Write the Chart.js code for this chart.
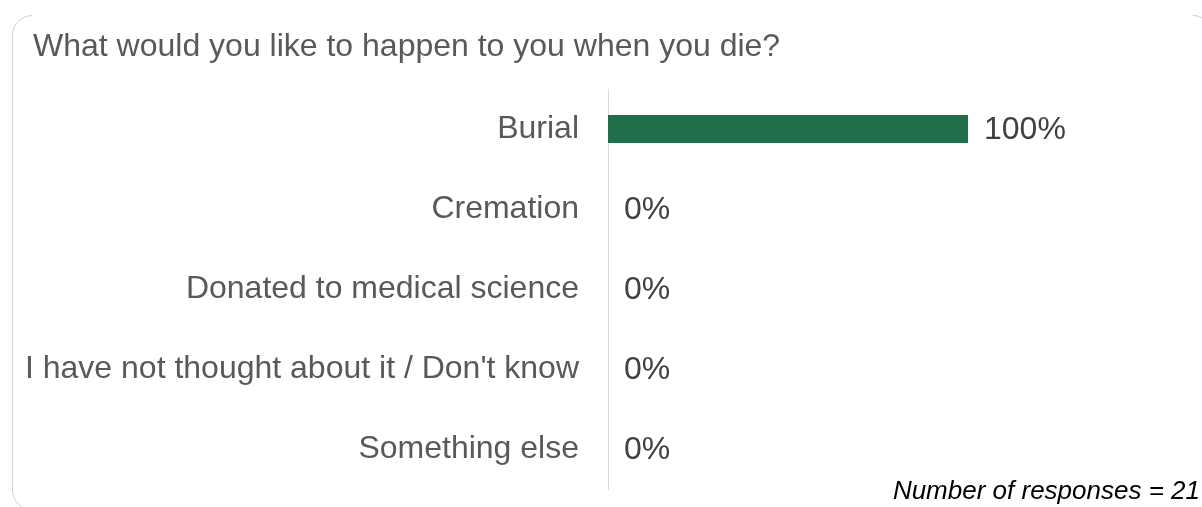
<!DOCTYPE html>
<html>
<head>
<meta charset="utf-8">
<script src="https://cdn.jsdelivr.net/npm/chart.js@4/dist/chart.umd.min.js"></script>
<style>
  html, body { margin: 0; padding: 0; background: #fff; }
  #wrap { position: relative; width: 1202px; height: 507px; }
</style>
</head>
<body>
<div id="wrap"><canvas id="surveyChart"></canvas></div>
<script>
// chart data
const title = "What would you like to happen to you when you die?";
const categories = [
  "Burial",
  "Cremation",
  "Donated to medical science",
  "I have not thought about it / Don't know",
  "Something else",
];
const percents = [100, 0, 0, 0, 0];
const responses = 21;

const FONT = "'Liberation Sans', Arial, sans-serif";

// light rounded frame (corners + left side), plus the question as heading
const framePlugin = {
  id: "frame",
  beforeDraw(chart) {
    const ctx = chart.ctx;
    const L = 12.5, T = 15.5, R = 1213, r = 20;
    ctx.save();
    ctx.strokeStyle = "#d0d0d0";
    ctx.lineWidth = 1;
    ctx.beginPath();
    ctx.arc(L + r, T + r, r, Math.PI, Math.PI * 1.5);
    ctx.stroke();
    ctx.beginPath();
    ctx.moveTo(L, T + r);
    ctx.lineTo(L, 490);
    ctx.arc(L + r, 490, r, Math.PI, Math.PI * 0.5, true);
    ctx.stroke();
    ctx.beginPath();
    ctx.arc(R - r, T + r, r, Math.PI * 1.5, Math.PI * 2);
    ctx.stroke();

    ctx.font = "32px " + FONT;
    ctx.fillStyle = "#595959";
    ctx.textAlign = "left";
    ctx.textBaseline = "alphabetic";
    ctx.fillText(title, 33, 56);
    ctx.restore();
  },
};

// value labels next to each bar + response count footer
const labelPlugin = {
  id: "valueLabels",
  afterDatasetsDraw(chart) {
    const ctx = chart.ctx;
    const meta = chart.getDatasetMeta(0);
    ctx.save();
    ctx.font = "32px " + FONT;
    ctx.fillStyle = "#404040";
    ctx.textAlign = "left";
    ctx.textBaseline = "middle";
    meta.data.forEach((bar, i) => {
      ctx.fillText(percents[i] + "%", bar.x + 16, bar.y + 1);
    });
    ctx.font = "italic 26px " + FONT;
    ctx.fillStyle = "#000";
    ctx.textAlign = "right";
    ctx.textBaseline = "alphabetic";
    ctx.fillText("Number of responses = " + responses, 1200, 499);
    ctx.restore();
  },
};

new Chart(document.getElementById("surveyChart"), {
  type: "bar",
  data: {
    labels: categories,
    datasets: [
      {
        data: percents,
        backgroundColor: "#216E4A",
        barPercentage: 0.35,
        categoryPercentage: 1,
      },
    ],
  },
  options: {
    indexAxis: "y",
    responsive: true,
    maintainAspectRatio: false,
    animation: false,
    layout: { padding: { left: 0, right: 234, top: 89, bottom: 18 } },
    plugins: {
      legend: { display: false },
      tooltip: { enabled: false },
    },
    scales: {
      x: { display: false, min: 0, max: 100 },
      y: {
        grid: { display: false, drawTicks: false },
        border: { display: true, color: "#d9d9d9", width: 1 },
        ticks: {
          color: "#595959",
          padding: 29,
          font: { family: FONT, size: 32 },
        },
        afterFit(scale) {
          scale.width = 608;
          scale.paddingTop = 0;
          scale.paddingBottom = 0;
        },
      },
    },
  },
  plugins: [framePlugin, labelPlugin],
});
</script>
</body>
</html>
